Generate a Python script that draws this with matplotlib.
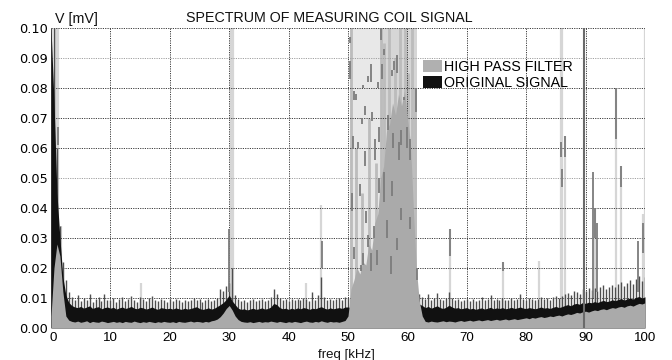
import numpy as np
import matplotlib
matplotlib.use("Agg")
import matplotlib.pyplot as plt
from matplotlib.patches import Patch
from matplotlib.transforms import ScaledTranslation

# ---------------- data (mV vs kHz) ----------------
freq = np.arange(0, 100.01, 0.5)   # sample grid, kHz (201 samples)

# ORIGINAL SIGNAL: top of the dense black core
orig_core = [
    0.100, 0.076, 0.045, 0.030, 0.017, 0.011, 0.0085, 0.0075, 0.0070, 0.0068, 0.0072, 0.0066, 0.0070, 0.0074, 0.0065, 0.0069, 0.0071, 0.0064, 0.0068, 0.0070,
    0.0066, 0.0069, 0.0063, 0.0067, 0.0070, 0.0065, 0.0068, 0.0072, 0.0066, 0.0064, 0.0069, 0.0067, 0.0063, 0.0066, 0.0070, 0.0065, 0.0062, 0.0068, 0.0066, 0.0064,
    0.0066, 0.0063, 0.0067, 0.0064, 0.0062, 0.0066, 0.0063, 0.0065, 0.0068, 0.0071, 0.0065, 0.0062, 0.0064, 0.0067, 0.0063, 0.0066, 0.0072, 0.0078, 0.0085, 0.0095,
    0.0110, 0.0090, 0.0078, 0.0066, 0.0062, 0.0064, 0.0060, 0.0063, 0.0066, 0.0062, 0.0064, 0.0067, 0.0063, 0.0065, 0.0070, 0.0082, 0.0078, 0.0068, 0.0064, 0.0066,
    0.0062, 0.0066, 0.0063, 0.0067, 0.0064, 0.0068, 0.0066, 0.0062, 0.0066, 0.0064, 0.0068, 0.0071, 0.0066, 0.0063, 0.0067, 0.0064, 0.0066, 0.0068, 0.0065, 0.0070,
    0.0070, 0.0068, 0.0070, 0.0068, 0.0070, 0.0068, 0.0070, 0.0068, 0.0070, 0.0068, 0.0070, 0.0068, 0.0070, 0.0068, 0.0070, 0.0068, 0.0070, 0.0068, 0.0070, 0.0068,
    0.0070, 0.0070, 0.0075, 0.0095, 0.0080, 0.0075, 0.0068, 0.0072, 0.0066, 0.0070, 0.0074, 0.0068, 0.0065, 0.0069, 0.0076, 0.0070, 0.0066, 0.0068, 0.0064, 0.0066,
    0.0068, 0.0063, 0.0066, 0.0062, 0.0065, 0.0067, 0.0063, 0.0066, 0.0069, 0.0064, 0.0067, 0.0065, 0.0068, 0.0064, 0.0066, 0.0069, 0.0065, 0.0067, 0.0070, 0.0066,
    0.0065, 0.0068, 0.0066, 0.0064, 0.0067, 0.0070, 0.0066, 0.0068, 0.0065, 0.0069, 0.0072, 0.0068, 0.0071, 0.0075, 0.0078, 0.0074, 0.0080, 0.0082, 0.0079, 0.0085,
    0.0082, 0.0086, 0.0084, 0.0088, 0.0085, 0.0089, 0.0092, 0.0088, 0.0090, 0.0094, 0.0091, 0.0095, 0.0098, 0.0093, 0.0097, 0.0100, 0.0096, 0.0102, 0.0105, 0.0100,
    0.0104]

# ORIGINAL SIGNAL: tops of the dark-grey spikes above the core
orig_peak = [
    0.100, 0.100, 0.060, 0.034, 0.022, 0.016, 0.012, 0.0105, 0.0095, 0.0110, 0.0090, 0.0100, 0.0092, 0.0115, 0.0088, 0.0098, 0.0105, 0.0090, 0.0112, 0.0094,
    0.0092, 0.0100, 0.0088, 0.0096, 0.0104, 0.0090, 0.0098, 0.0108, 0.0094, 0.0088, 0.0102, 0.0096, 0.0090, 0.0099, 0.0106, 0.0092, 0.0089, 0.0097, 0.0094, 0.0088,
    0.0096, 0.0090, 0.0098, 0.0092, 0.0087, 0.0095, 0.0090, 0.0094, 0.0099, 0.0092, 0.0096, 0.0088, 0.0093, 0.0098, 0.0090, 0.0094, 0.0100, 0.0130, 0.0125, 0.0140,
    0.0150, 0.0200, 0.0110, 0.0098, 0.0090, 0.0094, 0.0088, 0.0092, 0.0096, 0.0090, 0.0094, 0.0098, 0.0091, 0.0095, 0.0102, 0.0130, 0.0115, 0.0100, 0.0092, 0.0096,
    0.0090, 0.0096, 0.0092, 0.0098, 0.0094, 0.0100, 0.0097, 0.0090, 0.0120, 0.0095, 0.0110, 0.0170, 0.0105, 0.0093, 0.0098, 0.0092, 0.0096, 0.0099, 0.0094, 0.0105,
    0.0100, 0.0100, 0.0100, 0.0100, 0.0100, 0.0100, 0.0100, 0.0100, 0.0100, 0.0100, 0.0100, 0.0100, 0.0100, 0.0100, 0.0100, 0.0100, 0.0100, 0.0100, 0.0100, 0.0100,
    0.0100, 0.0100, 0.0100, 0.0125, 0.0115, 0.0105, 0.0098, 0.0112, 0.0095, 0.0100, 0.0118, 0.0096, 0.0092, 0.0099, 0.0120, 0.0100, 0.0094, 0.0098, 0.0091, 0.0095,
    0.0098, 0.0090, 0.0096, 0.0089, 0.0094, 0.0105, 0.0092, 0.0096, 0.0110, 0.0093, 0.0097, 0.0094, 0.0099, 0.0092, 0.0095, 0.0100, 0.0094, 0.0097, 0.0112, 0.0096,
    0.0094, 0.0099, 0.0096, 0.0093, 0.0098, 0.0104, 0.0097, 0.0100, 0.0095, 0.0102, 0.0108, 0.0100, 0.0106, 0.0112, 0.0118, 0.0110, 0.0125, 0.0120, 0.0115, 0.0130,
    0.0122, 0.0135, 0.0128, 0.0132, 0.0125, 0.0138, 0.0142, 0.0130, 0.0136, 0.0145, 0.0138, 0.0148, 0.0155, 0.0140, 0.0150, 0.0160, 0.0148, 0.0165, 0.0175, 0.0158,
    0.0170]

# HIGH PASS FILTER: solid grey level
hp_base = [
    0.004, 0.020, 0.028, 0.024, 0.012, 0.004, 0.0026, 0.0022, 0.0020, 0.0023, 0.0019, 0.0021, 0.0024, 0.0018, 0.0022, 0.0020, 0.0019, 0.0023, 0.0021, 0.0018,
    0.0020, 0.0022, 0.0019, 0.0021, 0.0018, 0.0022, 0.0020, 0.0019, 0.0023, 0.0020, 0.0018, 0.0021, 0.0019, 0.0022, 0.0020, 0.0018, 0.0021, 0.0019, 0.0022, 0.0020,
    0.0019, 0.0021, 0.0018, 0.0022, 0.0020, 0.0019, 0.0021, 0.0023, 0.0020, 0.0022, 0.0021, 0.0019, 0.0022, 0.0020, 0.0024, 0.0026, 0.0030, 0.0038, 0.0050, 0.0065,
    0.0075, 0.0060, 0.0040, 0.0028, 0.0022, 0.0020, 0.0019, 0.0021, 0.0018, 0.0020, 0.0022, 0.0019, 0.0021, 0.0020, 0.0023, 0.0021, 0.0019, 0.0022, 0.0020, 0.0018,
    0.0021, 0.0019, 0.0022, 0.0020, 0.0018, 0.0021, 0.0023, 0.0020, 0.0019, 0.0022, 0.0020, 0.0024, 0.0021, 0.0019, 0.0022, 0.0020, 0.0021, 0.0019, 0.0022, 0.0025,
    0.004, 0.013, 0.016, 0.020, 0.018, 0.022, 0.021, 0.028, 0.026, 0.035, 0.038, 0.050, 0.054, 0.066, 0.068, 0.075, 0.071, 0.078, 0.074, 0.079,
    0.070, 0.062, 0.040, 0.020, 0.009, 0.004, 0.0022, 0.0020, 0.0023, 0.0021, 0.0020, 0.0022, 0.0024, 0.0021, 0.0023, 0.0022, 0.0020, 0.0023, 0.0025, 0.0022,
    0.0024, 0.0026, 0.0023, 0.0025, 0.0027, 0.0024, 0.0026, 0.0028, 0.0025, 0.0027, 0.0029, 0.0026, 0.0028, 0.0030, 0.0027, 0.0029, 0.0031, 0.0028, 0.0030, 0.0032,
    0.0034, 0.0031, 0.0035, 0.0033, 0.0036, 0.0038, 0.0035, 0.0037, 0.0040, 0.0038, 0.0041, 0.0043, 0.0040, 0.0044, 0.0047, 0.0045, 0.0048, 0.0052, 0.0050, 0.0054,
    0.0056, 0.0053, 0.0057, 0.0060, 0.0058, 0.0062, 0.0064, 0.0061, 0.0065, 0.0068, 0.0066, 0.0070, 0.0072, 0.0069, 0.0074, 0.0076, 0.0073, 0.0078, 0.0082, 0.0080,
    0.0084]

# HIGH PASS FILTER: light band 50-62 kHz (saturated region)
band_f_left = [50.3, 55.5]
band_f_right = [55.5, 61.7]
band_top = [0.100, 0.100]

# HIGH PASS FILTER: mid-grey stripes inside the saturated region
stripe_f = [50.5, 51.3, 52.4, 53.6, 54.7, 55.6, 56.0, 56.9, 57.9, 58.7, 59.6, 60.1, 60.8, 61.2]
stripe_top = [0.100, 0.060, 0.045, 0.070, 0.055, 0.100, 0.095, 0.100, 0.090, 0.100, 0.100, 0.085, 0.100, 0.080]

# HIGH PASS FILTER: isolated light-grey spikes
spike_f = [0.6, 0.9, 1.2, 1.6, 2.0, 15.2, 30.3, 30.5, 30.7, 43.0, 45.5, 67.1, 76.1, 82.2,
           85.9, 86.1, 86.6, 91.6, 95.1, 95.9, 99.7, 100.0]
spike_top = [0.100, 0.100, 0.100, 0.034, 0.020, 0.015, 0.100, 0.100, 0.100, 0.015, 0.041, 0.033, 0.022, 0.0225,
             0.100, 0.100, 0.064, 0.040, 0.080, 0.054, 0.038, 0.100]

# dark-grey segments (mV, from/to)
seg_f = [1.1, 29.9, 45.7, 67.1, 76.1, 85.9, 86.6, 86.1, 91.2, 91.6, 92.0, 95.1, 95.9, 98.8, 99.7,
         50.3, 50.4, 51.0, 51.4, 50.9, 51.6, 52.3, 52.6, 52.8, 52.9, 53.3, 53.8, 54.1, 54.5, 55.0, 55.2,
         55.6, 55.7, 56.1, 56.8, 57.4, 57.6, 57.8, 58.3, 58.6, 58.9, 59.4, 60.0, 60.5, 61.5,
         50.7, 51.0, 52.1, 52.2, 52.6, 53.0, 53.4, 53.8, 54.4, 54.9, 55.2, 56.1, 56.6, 57.2, 57.45, 58.2,
         58.9, 60.5, 61.6]
seg_lo = [0.061, 0.012, 0.020, 0.024, 0.019, 0.057, 0.057, 0.047, 0.010, 0.030, 0.012, 0.063, 0.047, 0.012, 0.025,
          0.095, 0.083, 0.076, 0.076, 0.060, 0.060, 0.068, 0.080, 0.071, 0.054, 0.082, 0.082, 0.069, 0.056, 0.080, 0.062,
          0.096, 0.083, 0.091, 0.066, 0.084, 0.060, 0.086, 0.085, 0.056, 0.061, 0.076, 0.060, 0.056, 0.072,
          0.039, 0.023, 0.044, 0.019, 0.021, 0.035, 0.027, 0.019, 0.030, 0.021, 0.045, 0.042, 0.030, 0.018, 0.044, 0.026,
          0.036, 0.033, 0.016]
seg_hi = [0.067, 0.033, 0.029, 0.033, 0.022, 0.062, 0.064, 0.053, 0.052, 0.040, 0.035, 0.080, 0.054, 0.029, 0.035,
          0.097, 0.089, 0.079, 0.078, 0.064, 0.062, 0.070, 0.081, 0.074, 0.059, 0.084, 0.088, 0.072, 0.063, 0.082, 0.067,
          0.100, 0.088, 0.093, 0.071, 0.086, 0.065, 0.089, 0.091, 0.062, 0.066, 0.077, 0.067, 0.063, 0.080,
          0.045, 0.027, 0.048, 0.021, 0.025, 0.039, 0.031, 0.025, 0.034, 0.026, 0.050, 0.052, 0.036, 0.024, 0.049, 0.030,
          0.040, 0.037, 0.020]

full_line_f = [89.8]

x_ticks = [0, 10, 20, 30, 40, 50, 60, 70, 80, 90, 100]
y_ticks = [0.00, 0.01, 0.02, 0.03, 0.04, 0.05, 0.06, 0.07, 0.08, 0.09, 0.10]
y_labels = ["0.00", "0.01", "0.02", "0.03", "0.04", "0.05", "0.06", "0.07", "0.08", "0.09", "0.10"]

# ---------------- figure ----------------
W, H = 672, 360
fig = plt.figure(figsize=(W / 100, H / 100), dpi=100)
ax = fig.add_axes([51 / W, 32 / H, 594 / W, 300 / H])
ax.set_xlim(0, 100)
ax.set_ylim(0, 0.10)

LIGHT = "#d6d6d6"
LIGHTER = "#e8e8e8"
MID = "#aaaaaa"
STRIPE = "#bcbcbc"
DARK = "#4e4e4e"
SEG = "#7c7c7c"
BLACK = "#111111"

# light saturated band of the filtered signal
ax.fill_between(band_f_left, 0, band_top, color=LIGHTER, lw=0, zorder=1)
ax.fill_between(band_f_right, 0, band_top, color=LIGHT, lw=0, zorder=1)
ax.vlines(stripe_f, 0, stripe_top, color=STRIPE, lw=2.0, zorder=1.1)
ax.vlines(spike_f, 0, spike_top, color=LIGHT, lw=1.6, zorder=1)

# grid (dotted)
for yv in y_ticks:
    c = "#a0a0a0" if yv in (0.05, 0.09) else "#3c3c3c"
    ax.axhline(yv, color=c, lw=0.7, ls=(0, (1.2, 1.2)), zorder=1.5)
for xv in x_ticks:
    ax.axvline(xv, color="#3c3c3c", lw=0.7, ls=(0, (1.2, 1.2)), zorder=1.5)

# original signal: spiky dark fringe + dense black core
ax.vlines(freq, 0, orig_peak, color=DARK, lw=1.0, zorder=2)
ax.fill_between(freq, 0, orig_core, color=BLACK, lw=0, zorder=2.1)

# high pass filtered signal
ax.fill_between(freq, 0, hp_base, color=MID, lw=0, zorder=3)
ax.vlines(seg_f, seg_lo, seg_hi, color=SEG, lw=1.3, zorder=3.5)
ax.vlines(full_line_f, 0, 0.10, color="#6a6a6a", lw=1.5, zorder=3.6)

# bottom grid line on top
ax.axhline(0, color="#3c3c3c", lw=0.7, ls=(0, (1.2, 1.2)), zorder=4)

for s in ax.spines.values():
    s.set_visible(False)
ax.set_xticks(x_ticks)
ax.set_xticklabels([str(v) for v in x_ticks], family=["Liberation Sans", "DejaVu Sans"], fontsize=9.6)
ax.set_yticks(y_ticks)
ax.set_yticklabels(y_labels, family="DejaVu Sans", fontsize=9.3)
ax.tick_params(axis="both", length=0)
ax.tick_params(axis="x", pad=3)
ax.tick_params(axis="y", pad=2.5)
# nudge the "0" frequency label slightly right (as in the reference) so it clears "0.00"
first = ax.get_xticklabels()[0]
first.set_transform(first.get_transform() + ScaledTranslation(2 / 100, 0, fig.dpi_scale_trans))

txt = dict(family=["Liberation Sans", "DejaVu Sans"], color="#111111")
fig.text(329 / W, 1 - 18 / H, "SPECTRUM OF MEASURING COIL SIGNAL", ha="center", va="center", fontsize=10.3, **txt)
fig.text(55 / W, 1 - 19 / H, "V [mV]", ha="left", va="center", fontsize=10.3, **txt)
fig.text(346 / W, 1 - 355 / H, "freq [kHz]", ha="center", va="center", fontsize=9.5, **txt)

leg = ax.legend(handles=[Patch(facecolor="#b0b0b0", edgecolor="none"), Patch(facecolor=BLACK, edgecolor="none")],
                labels=["HIGH PASS FILTER", "ORIGINAL SIGNAL"],
                loc="upper left", bbox_to_anchor=(423 / W, 1 - 60 / H), bbox_transform=fig.transFigure,
                frameon=False, handlelength=1.3, handleheight=0.95, handletextpad=0.15, labelspacing=0.12,
                borderpad=0, borderaxespad=0, prop={"family": "Liberation Sans", "size": 10.3})
leg.set_zorder(10)

fig.savefig("out.png", dpi=100)
